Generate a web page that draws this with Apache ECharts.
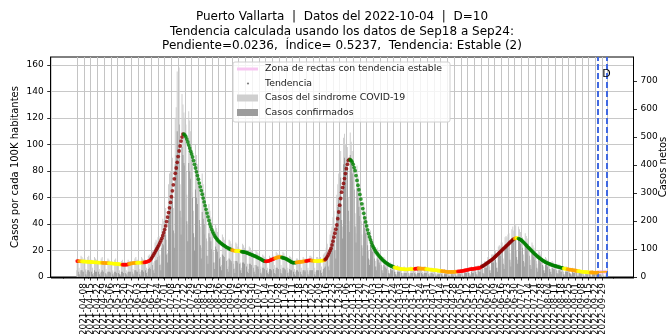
<!DOCTYPE html>
<html>
<head>
<meta charset="utf-8">
<script src="https://cdn.jsdelivr.net/npm/echarts@6/dist/echarts.min.js"></script>
<style>
html,body{margin:0;padding:0;background:#fff;overflow:hidden}
#chart{width:672px;height:334px}
</style>
</head>
<body>
<div id="chart"></div>
<script>
// First day of the daily series
const startDate = '2021-04-01';

// Smoothed trend, cases per 100K inhabitants, one value per day from 2021-04-01
const trendValues = [
12.0,11.9,11.9,11.8,11.8,11.8,11.7,11.7,11.6,11.6,
11.5,11.5,11.4,11.4,11.3,11.3,11.2,11.2,11.1,11.1,
11.0,11.0,10.9,10.9,10.8,10.8,10.7,10.7,10.6,10.6,
10.5,10.5,10.4,10.4,10.3,10.3,10.2,10.1,10.1,10.0,
10.0,9.9,9.8,9.7,9.6,9.5,9.4,9.3,9.3,9.3,
9.3,9.3,9.4,9.6,9.8,10.0,10.2,10.3,10.5,10.6,
10.6,10.7,10.7,10.8,10.8,10.8,10.9,10.9,10.9,11.0,
11.0,11.2,11.4,11.6,11.9,12.2,12.8,13.8,15.0,16.2,
17.6,18.8,20.2,21.5,22.8,24.2,25.8,27.4,29.2,31.2,
33.4,35.8,38.5,41.8,45.2,48.6,52.2,56.2,60.5,65.0,
69.5,74.0,78.2,82.2,86.5,90.8,95.0,98.8,102.5,105.5,
107.8,107.8,107.0,105.8,104.0,101.8,99.5,97.2,94.9,92.8,
90.5,87.8,85.0,82.2,79.3,76.5,73.7,70.8,68.0,65.2,
62.4,59.5,56.6,53.8,51.0,48.2,45.4,42.6,40.0,37.8,
35.8,34.0,32.5,31.0,29.8,28.8,27.9,27.1,26.4,25.8,
25.2,24.6,24.1,23.6,23.1,22.6,22.2,21.8,21.4,21.0,
20.7,20.4,20.1,19.9,19.8,19.7,19.6,19.6,19.5,19.4,
19.3,19.2,19.0,18.9,18.7,18.6,18.4,18.1,17.8,17.5,
17.2,16.9,16.6,16.3,16.0,15.7,15.3,15.0,14.6,14.3,
13.9,13.5,13.0,12.6,12.2,11.9,11.8,11.8,11.9,12.1,
12.4,12.7,13.0,13.3,13.6,13.9,14.2,14.5,14.7,14.9,
15.0,15.0,14.9,14.7,14.5,14.3,14.1,13.8,13.4,13.0,
12.6,12.1,11.6,11.2,10.9,10.8,10.8,10.9,11.0,11.1,
11.2,11.3,11.4,11.5,11.6,11.7,11.8,11.9,12.0,12.2,
12.4,12.5,12.6,12.5,12.4,12.3,12.2,12.1,12.0,12.0,
12.0,12.1,12.1,12.2,12.3,12.4,12.5,12.7,13.2,14.0,
15.2,16.6,18.2,19.9,21.6,24.2,27.0,30.0,33.0,36.0,
39.2,44.0,49.0,54.2,59.2,64.0,67.4,70.6,74.2,78.0,
81.7,85.0,87.8,88.7,88.5,87.8,86.7,85.0,82.5,80.2,
76.5,72.8,69.2,65.8,62.3,58.8,55.2,51.6,48.0,44.6,
41.5,38.5,35.6,32.8,30.2,28.0,25.9,24.0,22.5,21.1,
19.8,18.6,17.6,16.7,15.8,15.0,14.2,13.4,12.6,12.0,
11.4,10.8,10.3,9.8,9.3,8.8,8.5,8.2,7.9,7.6,
7.3,7.0,6.8,6.6,6.5,6.3,6.2,6.1,6.0,5.9,
5.9,5.8,5.8,5.8,5.8,5.9,5.9,6.0,6.0,6.1,
6.2,6.2,6.3,6.3,6.4,6.4,6.4,6.4,6.3,6.3,
6.3,6.2,6.1,6.0,5.9,5.8,5.7,5.6,5.5,5.4,
5.3,5.2,5.2,5.1,5.0,4.9,4.8,4.7,4.6,4.5,
4.4,4.3,4.2,4.1,4.0,3.9,3.9,3.8,3.8,3.8,
3.8,3.9,3.9,4.0,4.0,4.1,4.2,4.2,4.3,4.4,
4.5,4.6,4.8,4.9,5.1,5.2,5.4,5.6,5.8,5.9,
6.0,6.1,6.2,6.3,6.4,6.5,6.6,6.7,6.8,7.1,
7.5,7.9,8.3,8.8,9.3,9.8,10.3,10.8,11.3,11.9,
12.4,12.9,13.5,14.1,14.8,15.5,16.2,16.9,17.6,18.3,
19.0,19.7,20.4,21.1,21.8,22.5,23.2,23.9,24.6,25.3,
26.0,26.7,27.4,28.1,28.6,29.0,29.3,29.4,29.3,29.0,
28.6,28.2,27.7,27.0,26.3,25.6,24.8,24.0,23.2,22.4,
21.7,21.0,20.2,19.5,18.7,18.0,17.3,16.6,16.0,15.3,
14.7,14.2,13.6,13.1,12.6,12.1,11.6,11.2,10.8,10.5,
10.2,9.9,9.6,9.3,9.0,8.8,8.6,8.3,8.1,7.9,
7.7,7.5,7.3,7.1,6.9,6.7,6.5,6.3,6.2,6.0,
5.9,5.8,5.6,5.5,5.4,5.2,5.1,5.0,4.9,4.7,
4.6,4.5,4.4,4.2,4.1,4.0,3.9,3.8,3.8,3.7,
3.6,3.6,3.5,3.5,3.4,3.4,3.4,3.3,3.3,3.3,
3.3,3.3
];

// Trend class per run of days: [first day index, class]
// y = estable, o = subida leve, r = subida, d = subida fuerte, g = bajada
const trendClasses = [
[0,'r'],[2,'o'],[5,'y'],[26,'o'],[33,'y'],[47,'r'],[54,'o'],[62,'y'],[68,'o'],[70,'r'],
[77,'d'],[111,'g'],[161,'o'],[165,'y'],[171,'g'],[196,'r'],[206,'o'],[213,'g'],[228,'o'],
[238,'r'],[244,'o'],[247,'y'],[257,'o'],[258,'d'],[284,'g'],[330,'y'],[351,'r'],[355,'o'],
[363,'y'],[379,'o'],[396,'r'],[421,'d'],[455,'o'],[457,'y'],[459,'g'],[506,'y'],[510,'o'],
[521,'y'],[534,'o']
];

// Daily COVID-19 syndrome cases per 100K (one row per week, starting Thursday)
const syndromeCases = [
14,13,7,4,16,15,14,
13,14,6,4,15,16,13,
12,13,7,3,15,14,13,
13,12,6,3,14,15,12,
12,11,6,3,14,13,12,
11,12,5,3,13,14,11,
11,10,5,2,12,13,11,
10,11,5,3,13,12,12,
12,12,6,3,14,15,13,
13,12,6,4,15,14,13,
14,13,7,4,16,17,15,
18,20,11,6,26,28,27,
30,31,17,10,40,44,42,
48,52,28,18,70,78,80,
85,90,52,33,120,128,155,
140,158,70,45,138,130,124,
120,115,62,40,125,118,110,
95,90,50,30,100,92,85,
72,68,38,22,78,70,64,
52,48,27,16,55,50,45,
36,34,19,11,40,37,34,
28,27,15,9,32,30,28,
25,24,13,8,28,27,25,
23,22,12,7,26,25,23,
22,21,11,7,25,24,22,
20,19,10,6,23,22,20,
18,17,9,5,20,19,18,
15,14,8,4,17,16,15,
14,14,7,4,16,15,14,
17,16,9,5,19,18,17,
17,17,9,5,19,18,16,
14,14,7,4,16,15,14,
13,12,6,4,14,14,13,
13,13,7,4,15,14,13,
14,14,7,4,16,16,15,
14,13,7,4,15,15,14,
14,15,8,4,17,18,19,
22,25,14,9,32,35,38,
45,50,28,20,62,70,78,
88,95,55,38,105,108,100,
104,98,60,42,109,102,95,
88,82,48,33,84,76,68,
60,55,32,22,56,50,45,
38,34,20,13,35,31,28,
24,22,12,8,22,20,18,
16,15,8,5,15,14,12,
11,10,5,3,11,10,9,
8,8,4,2,9,8,8,
7,7,3,2,8,7,7,
7,7,3,2,8,7,7,
8,7,4,2,8,8,7,
7,7,4,2,8,8,7,
7,6,3,2,7,7,6,
6,6,3,2,6,6,6,
5,5,3,1,6,5,5,
5,4,2,1,5,5,4,
5,5,2,1,5,5,5,
6,6,3,1,6,6,6,
7,7,3,2,8,7,7,
8,8,4,2,9,8,8,
10,11,6,3,12,12,12,
15,15,8,5,17,17,17,
20,20,11,7,23,24,23,
26,26,14,9,30,31,30,
32,33,18,11,36,38,35,
36,39,20,13,38,36,34,
31,30,17,11,33,31,29,
24,23,13,8,26,24,22,
19,18,10,6,20,19,17,
15,14,8,5,15,14,13,
12,11,6,4,12,11,10,
9,9,5,3,10,9,8,
8,7,4,2,8,8,7,
7,6,3,2,7,6,6,
6,5,3,1,6,5,5,
5,4,2,1,5,5,4,
4,4,2,1,5,4,4,
4,4,2,1,4,4,3,
3,3,1,1,2,1
];

// Daily confirmed cases per 100K
const confirmedCases = [
5,4,2,1,5,5,4,
4,5,2,1,5,5,4,
4,4,2,1,5,4,4,
4,4,2,1,4,5,4,
4,3,2,1,4,4,4,
3,4,2,1,4,4,3,
3,3,2,1,4,4,3,
3,3,2,1,4,4,4,
4,4,2,1,5,5,4,
4,4,2,1,5,5,4,
5,5,3,1,6,7,6,
8,9,5,3,12,13,13,
15,16,9,5,22,25,24,
28,32,17,11,45,50,52,
56,60,35,22,85,92,110,
100,115,50,32,98,92,86,
84,80,42,27,86,80,74,
64,60,33,20,66,60,55,
46,43,24,14,49,44,40,
32,29,16,10,33,30,27,
21,20,11,6,23,21,19,
15,14,8,5,17,16,15,
12,12,6,4,14,13,12,
11,10,6,3,12,12,11,
10,10,5,3,11,11,10,
9,8,4,3,10,10,9,
8,7,4,2,9,8,8,
6,6,3,2,7,7,6,
5,5,3,2,6,6,5,
6,6,3,2,7,7,6,
6,6,3,2,7,7,6,
5,5,3,1,6,5,5,
4,4,2,1,5,5,4,
4,4,2,1,5,5,4,
5,5,2,1,5,5,5,
5,4,2,1,5,5,5,
5,5,3,1,6,7,8,
10,13,8,5,20,23,26,
32,37,20,14,46,53,60,
68,75,43,29,85,90,84,
88,82,50,34,92,85,78,
72,66,38,26,67,60,53,
46,42,24,16,42,37,33,
27,24,14,9,24,21,19,
16,14,8,5,14,13,11,
9,9,5,3,9,8,7,
6,5,3,2,6,5,5,
4,4,2,1,4,4,4,
3,3,1,1,3,3,3,
3,3,1,1,3,3,3,
3,3,2,1,3,3,3,
3,3,2,1,3,3,3,
3,2,1,1,3,3,2,
2,2,1,1,2,2,2,
2,2,1,0,2,2,2,
2,1,1,0,2,2,1,
2,2,1,0,2,2,2,
2,2,1,0,3,3,3,
3,3,1,1,4,3,3,
4,4,2,1,5,4,4,
6,6,3,2,7,7,7,
9,9,5,3,11,11,11,
13,13,7,4,16,17,16,
19,19,10,6,22,23,22,
24,25,13,8,27,29,26,
27,30,15,10,28,27,25,
23,22,12,8,24,22,21,
17,16,9,6,18,17,15,
13,12,7,4,13,12,11,
9,9,5,3,9,9,8,
7,6,4,2,7,6,6,
5,5,3,2,5,5,4,
4,4,2,1,4,4,4,
3,3,2,1,4,3,3,
3,3,1,1,3,3,3,
2,2,1,0,3,2,2,
2,2,1,0,2,2,2,
2,2,1,0,2,2,1,
1,1,0,0,1,0
];

// X-axis tick labels
const tickLabels = [
'2021-04-01','2021-04-08','2021-04-15','2021-04-22','2021-04-29',
'2021-05-06','2021-05-13','2021-05-20','2021-05-27',
'2021-06-03','2021-06-10','2021-06-17','2021-06-24',
'2021-07-01','2021-07-08','2021-07-15','2021-07-22','2021-07-29',
'2021-08-05','2021-08-12','2021-08-19','2021-08-26',
'2021-09-02','2021-09-09','2021-09-16','2021-09-23','2021-09-30',
'2021-10-07','2021-10-14','2021-10-21','2021-10-28',
'2021-11-04','2021-11-11','2021-11-18','2021-11-25',
'2021-12-02','2021-12-09','2021-12-16','2021-12-23','2021-12-30',
'2022-01-06','2022-01-13','2022-01-20','2022-01-27',
'2022-02-03','2022-02-10','2022-02-17','2022-02-24',
'2022-03-03','2022-03-10','2022-03-17','2022-03-24','2022-03-31',
'2022-04-07','2022-04-14','2022-04-21','2022-04-28',
'2022-05-05','2022-05-12','2022-05-19','2022-05-26',
'2022-06-02','2022-06-09','2022-06-16','2022-06-23','2022-06-30',
'2022-07-07','2022-07-14','2022-07-21','2022-07-28',
'2022-08-04','2022-08-11','2022-08-18','2022-08-25',
'2022-09-01','2022-09-08','2022-09-15','2022-09-22','2022-09-29',
'2022-10-04'
];
const leftTicks = [0,20,40,60,80,100,120,140,160];
const rightTicks = [0,100,200,300,400,500,600,700];

// Window used for the trend (D = 10 days) and the stable-slope zone
const windowDates = ['2022-09-24','2022-10-04'];
const stableZoneValues = [3.5, 3.9];

const titleLines = [
  'Puerto Vallarta  |  Datos del 2022-10-04  |  D=10',
  'Tendencia calculada usando los datos de Sep18 a Sep24:',
  'Pendiente=0.0236,  Índice= 0.5237,  Tendencia: Estable (2)'
];
const legendNames = [
  'Zona de rectas con tendencia estable',
  'Tendencia',
  'Casos del sindrome COVID-19',
  'Casos confirmados'
];

// ---- helpers ----
const DAY = 86400000;
const t0 = Date.parse(startDate + 'T00:00:00Z');
const dayOf = s => Math.round((Date.parse(s + 'T00:00:00Z') - t0) / DAY);
const tickDays = tickLabels.map(dayOf);
const labelByDay = {};
tickDays.forEach((d, i) => { labelByDay[d] = tickLabels[i]; });
const lastDay = syndromeCases.length - 1;
const pad = lastDay * 0.05;
const xMin = -pad, xMax = lastDay + pad;
const minorDays = [];
for (let d = Math.ceil(xMin); d <= xMax; d++) minorDays.push(d);
const windowDays = windowDates.map(dayOf);

const palette = { y: '#ffff00', o: '#ffa500', r: '#ff0000', d: '#8b0000', g: '#008000' };
function classAt(day) {
  let c = trendClasses[0][1];
  for (const [s, k] of trendClasses) { if (day >= s) c = k; else break; }
  return c;
}

const FONT = 'DejaVu Sans';
const chart = echarts.init(document.getElementById('chart'), null, { renderer: 'canvas' });

const legendX = 233, legendY = 62, rowY = [69, 83.5, 98, 112.5];
const graphics = [];
titleLines.forEach((t, i) => {
  graphics.push({ type: 'text', silent: true, style: {
    text: t, x: 342, y: 17 + i * 14.5, textAlign: 'center', textVerticalAlign: 'middle',
    font: '12px "DejaVu Sans"', fill: '#000' } });
});
graphics.push({ type: 'rect', silent: true, z: 100,
  shape: { x: legendX, y: legendY, width: 217, height: 60, r: 2 },
  style: { fill: 'rgba(255,255,255,0.8)', stroke: '#d0d0d0', lineWidth: 1 } });
graphics.push({ type: 'rect', silent: true, z: 101,
  shape: { x: 237, y: rowY[0] - 1.5, width: 21, height: 3 }, style: { fill: '#f7c6f1' } });
graphics.push({ type: 'circle', silent: true, z: 101,
  shape: { cx: 248, cy: rowY[1], r: 1.1 }, style: { fill: '#808080' } });
graphics.push({ type: 'rect', silent: true, z: 101,
  shape: { x: 237, y: rowY[2] - 3.5, width: 21, height: 7 }, style: { fill: '#cfcfcf' } });
graphics.push({ type: 'rect', silent: true, z: 101,
  shape: { x: 237, y: rowY[3] - 3.5, width: 21, height: 7 }, style: { fill: '#9c9c9c' } });
legendNames.forEach((n, i) => {
  graphics.push({ type: 'text', silent: true, z: 101, style: {
    text: n, x: 265, y: rowY[i], textVerticalAlign: 'middle',
    font: '9.4px "DejaVu Sans"', fill: '#222' } });
});

const option = {
  animation: false,
  grid: { left: 50.7, right: 38.5, top: 57, bottom: 57, show: true,
    borderColor: '#000', borderWidth: 1, outerBoundsMode: 'none' },
  xAxis: [
    { type: 'value', min: xMin, max: xMax, position: 'bottom',
      axisLine: { onZero: false, lineStyle: { color: '#000', width: 1 } },
      axisTick: { customValues: tickDays, length: 3.5, lineStyle: { color: '#000', width: 0.8 } },
      axisLabel: { customValues: tickDays, rotate: 90, margin: 6, fontSize: 9, fontFamily: FONT,
        color: '#000', formatter: v => labelByDay[Math.round(v)] || '' },
      splitLine: { show: false } },
    { type: 'value', min: xMin, max: xMax, position: 'bottom',
      axisLine: { show: false, onZero: false },
      axisTick: { customValues: minorDays, length: 2, lineStyle: { color: '#000', width: 0.5 } },
      axisLabel: { show: false }, splitLine: { show: false } }
  ],
  yAxis: [
    { type: 'value', min: 0, max: 165.9, position: 'left',
      name: 'Casos por cada 100K habitantes', nameLocation: 'middle', nameGap: 30,
      nameMoveOverlap: false,
      nameTextStyle: { fontSize: 10, fontFamily: FONT, color: '#000' },
      axisLine: { show: true, onZero: false, lineStyle: { color: '#000', width: 1 } },
      axisTick: { show: true, customValues: leftTicks, length: 3.5, lineStyle: { color: '#000', width: 0.8 } },
      axisLabel: { customValues: leftTicks, margin: 7, fontSize: 9, fontFamily: FONT, color: '#000' },
      splitLine: { show: true, lineStyle: { color: '#c8c8c8', width: 1 } } },
    { type: 'value', min: 0, max: 786, position: 'right',
      name: 'Casos netos', nameLocation: 'middle', nameGap: 25,
      nameMoveOverlap: false,
      nameTextStyle: { fontSize: 10, fontFamily: FONT, color: '#000' },
      axisLine: { show: true, onZero: false, lineStyle: { color: '#000', width: 1 } },
      axisTick: { show: true, customValues: rightTicks, length: 3.5, lineStyle: { color: '#000', width: 0.8 } },
      axisLabel: { customValues: rightTicks, margin: 7, fontSize: 9, fontFamily: FONT, color: '#000' },
      splitLine: { show: false } }
  ],
  series: [
    { name: 'grid-x', type: 'line', data: [], z: 1, silent: true,
      markLine: { silent: true, symbol: ['none', 'none'], label: { show: false },
        lineStyle: { color: '#c4c4c4', width: 1, type: 'solid' },
        emphasis: { disabled: true },
        data: tickDays.map(d => ({ xAxis: d })) } },
    { name: legendNames[2], type: 'bar', z: 2, barWidth: 0.8, barGap: '-100%',
      itemStyle: { color: '#cfcfcf' }, silent: true,
      data: syndromeCases.map((v, i) => [i, v]) },
    { name: legendNames[3], type: 'bar', z: 3, barWidth: 0.8, barGap: '-100%',
      itemStyle: { color: '#9c9c9c' }, silent: true,
      data: confirmedCases.map((v, i) => [i, v]) },
    { name: legendNames[0], type: 'line', z: 4, symbol: 'none', silent: true,
      lineStyle: { color: '#f7c6f1', width: 4 },
      data: windowDays.map((d, i) => [d, stableZoneValues[i]]) },
    { name: 'zona-linea', type: 'line', z: 5, symbol: 'none', silent: true,
      lineStyle: { color: '#ffa500', width: 1.5 },
      data: windowDays.map((d, i) => [d, stableZoneValues[i]]) },
    { name: legendNames[1], type: 'scatter', z: 6, symbolSize: 3.8, silent: true,
      itemStyle: { color: p => palette[classAt(p.data[0])] },
      data: trendValues.map((v, i) => [i, v]) },
    { name: 'ventana', type: 'line', data: [], z: 7, silent: true,
      markLine: { silent: true, symbol: ['none', 'none'],
        label: { show: false }, emphasis: { disabled: true },
        lineStyle: { color: '#4169e1', width: 2, type: [6, 3] },
        data: windowDays.map(d => ({ xAxis: d })) } }
  ],
  graphic: graphics.concat([
    { type: 'text', silent: true, z: 100, style: { text: 'D', x: 606.5, y: 74,
      textAlign: 'center', textVerticalAlign: 'middle', font: '11px "DejaVu Sans"', fill: '#000' } }
  ])
};
chart.setOption(option);
</script>
</body>
</html>
